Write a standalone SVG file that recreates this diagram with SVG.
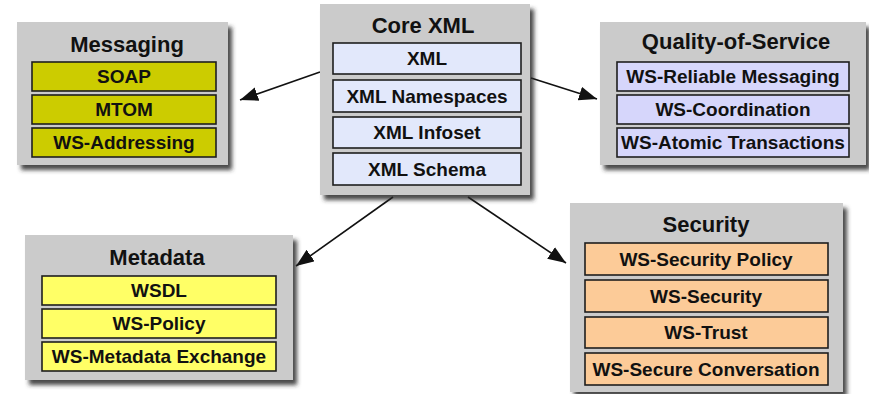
<svg xmlns="http://www.w3.org/2000/svg" width="869" height="394" viewBox="0 0 869 394">
<style>
.panel{fill:#cbcbcb;filter:url(#sh)}
.row{stroke:#1e1e1e;stroke-width:1.6}
.t{font-family:"Liberation Sans",Arial,sans-serif;font-weight:bold;fill:#111;text-anchor:middle}
.title{font-size:22px}
.lbl{font-size:19px}
.olive{fill:#cccc00}
.yel{fill:#ffff66}
.blue{fill:#e2e8fb}
.lav{fill:#d6d6fb}
.peach{fill:#fccb98}
.conn{stroke:#111;stroke-width:1.6;fill:none;marker-end:url(#ah)}
</style>
<defs>
<filter id="sh" x="-10%" y="-10%" width="130%" height="130%">
<feDropShadow dx="4" dy="5" stdDeviation="2" flood-color="#2a2a2a" flood-opacity="0.85"/>
</filter>
<marker id="ah" markerUnits="userSpaceOnUse" markerWidth="20" markerHeight="16" refX="18" refY="7" orient="auto">
<path d="M0,0 L18,7 L0,14 Z" fill="#111"/>
</marker>
</defs>
<rect width="869" height="394" fill="#ffffff"/>

<g id="connectors">
<line class="conn" x1="320" y1="72" x2="240" y2="100"/>
<line class="conn" x1="531" y1="78" x2="597" y2="99"/>
<line class="conn" x1="393" y1="197" x2="296" y2="266"/>
<line class="conn" x1="468" y1="197" x2="566" y2="263"/>
</g>

<g id="messaging">
<rect class="panel" x="17" y="22" width="211" height="143"/>
<text class="t title" x="127" y="52">Messaging</text>
<rect class="row olive" x="32" y="62" width="184" height="29"/>
<text class="t lbl" x="124" y="83">SOAP</text>
<rect class="row olive" x="32" y="95" width="184" height="29"/>
<text class="t lbl" x="124" y="116">MTOM</text>
<rect class="row olive" x="32" y="128" width="184" height="29"/>
<text class="t lbl" x="124" y="149">WS-Addressing</text>
</g>

<g id="core-xml">
<rect class="panel" x="320" y="4" width="210" height="191"/>
<text class="t title" x="423" y="33">Core XML</text>
<rect class="row blue" x="333" y="43" width="188" height="31"/>
<text class="t lbl" x="427" y="65">XML</text>
<rect class="row blue" x="333" y="80" width="188" height="32"/>
<text class="t lbl" x="427" y="103">XML Namespaces</text>
<rect class="row blue" x="333" y="117" width="188" height="31"/>
<text class="t lbl" x="427" y="139">XML Infoset</text>
<rect class="row blue" x="333" y="153" width="188" height="32"/>
<text class="t lbl" x="427" y="176">XML Schema</text>
</g>

<g id="quality-of-service">
<rect class="panel" x="600" y="22" width="266" height="143"/>
<text class="t title" x="736" y="49">Quality-of-Service</text>
<rect class="row lav" x="617" y="62" width="232" height="29"/>
<text class="t lbl" x="733" y="83">WS-Reliable Messaging</text>
<rect class="row lav" x="617" y="95" width="232" height="29"/>
<text class="t lbl" x="733" y="116">WS-Coordination</text>
<rect class="row lav" x="617" y="128" width="232" height="29"/>
<text class="t lbl" x="733" y="149">WS-Atomic Transactions</text>
</g>

<g id="metadata">
<rect class="panel" x="25" y="235" width="268" height="145"/>
<text class="t title" x="157" y="265">Metadata</text>
<rect class="row yel" x="42" y="276" width="234" height="29"/>
<text class="t lbl" x="159" y="297">WSDL</text>
<rect class="row yel" x="42" y="309" width="234" height="29"/>
<text class="t lbl" x="159" y="330">WS-Policy</text>
<rect class="row yel" x="42" y="342" width="234" height="29"/>
<text class="t lbl" x="159" y="363">WS-Metadata Exchange</text>
</g>

<g id="security">
<rect class="panel" x="570" y="203" width="273" height="189"/>
<text class="t title" x="706" y="232">Security</text>
<rect class="row peach" x="585" y="243" width="243" height="32"/>
<text class="t lbl" x="706" y="266">WS-Security Policy</text>
<rect class="row peach" x="585" y="280" width="243" height="32"/>
<text class="t lbl" x="706" y="303">WS-Security</text>
<rect class="row peach" x="585" y="317" width="243" height="31"/>
<text class="t lbl" x="706" y="339">WS-Trust</text>
<rect class="row peach" x="585" y="353" width="243" height="32"/>
<text class="t lbl" x="706" y="376">WS-Secure Conversation</text>
</g>
</svg>
